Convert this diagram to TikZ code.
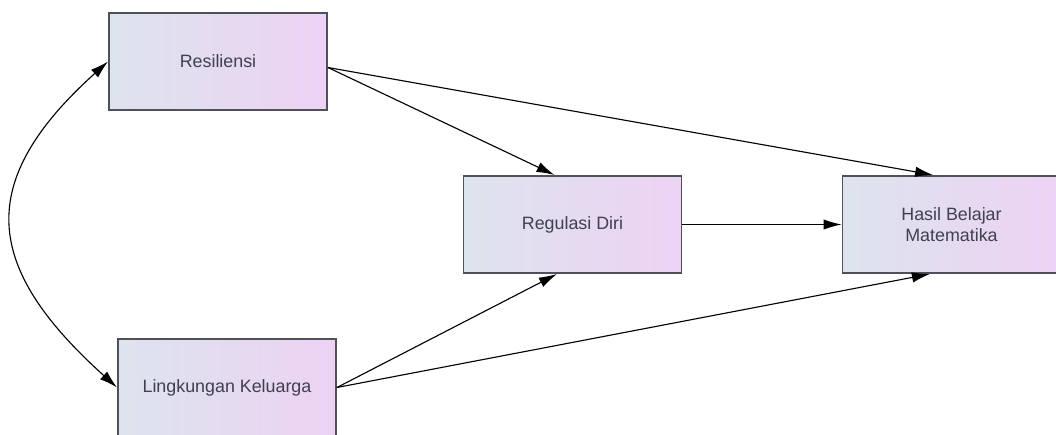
\documentclass[tikz,border=0pt]{standalone}
\usepackage{fontspec}
\setmainfont{Liberation Sans}
\usepackage{xcolor}
\usepackage{tikz}
\usetikzlibrary{arrows.meta}

\definecolor{boxleft}{HTML}{DDE4ED}
\definecolor{boxright}{HTML}{EDD2F4}
\definecolor{boxline}{HTML}{505058}
\definecolor{boxtext}{HTML}{40404E}

\begin{document}
\begin{tikzpicture}[x=0.025cm, y=0.025cm,
    var/.style={draw=boxline, line width=1.3pt, left color=boxleft, right color=boxright,
        minimum width=5.45cm, minimum height=2.43cm, inner sep=0pt, align=center,
        text=boxtext, font=\fontsize{12.7}{14.5}\selectfont},
    path/.style={draw=black, line width=0.8pt, -{Latex[length=4.5mm, width=2.6mm]}}]
    \useasboundingbox (0,0) rectangle (1056,434);

    \node[var] (res)   at (218, 372.5) {Resiliensi};
    \node[var] (reg)   at (572.5, 209.5) {Regulasi Diri};
    \node[var] (hasil) at (951.5, 209.5) {Hasil Belajar\\Matematika};
    \node[var] (lingk) at (227, 46.5) {Lingkungan Keluarga};

    \draw[path, {Latex[length=4.5mm, width=2.6mm]}-{Latex[length=4.5mm, width=2.6mm]}]
        (res.west) .. controls +(222:4.5cm) and +(138:4.5cm) .. (lingk.west);

    \draw[path] ([yshift=-0.15cm]res.east) -- ([xshift=-0.45cm]reg.north);
    \draw[path] ([yshift=-0.15cm]res.east) -- ([xshift=-0.46cm]hasil.north);
    \draw[path] (reg.east) -- (hasil.west);
    \draw[path] (lingk.east) -- ([xshift=-0.39cm]reg.south);
    \draw[path] (lingk.east) -- ([xshift=-0.54cm]hasil.south);

\end{tikzpicture}
\end{document}
